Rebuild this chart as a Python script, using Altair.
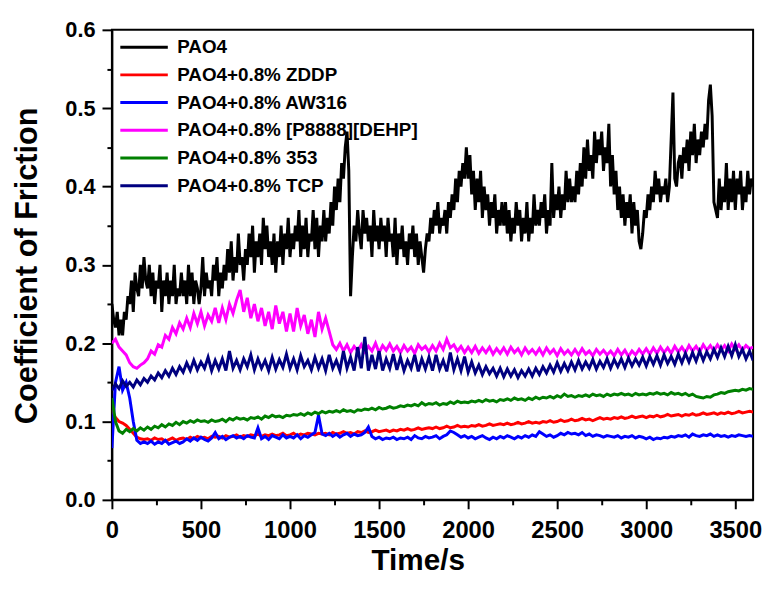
import altair as alt
import pandas as pd

# time grids (s)
time_black = list(range(0, 3601, 10))   # PAO4 read every 10 s
time_other = list(range(0, 3601, 20))   # additive oils read every 20 s

pao4 = [
    0.25, 0.23, 0.22, 0.24, 0.21, 0.23, 0.21, 0.24, 0.23, 0.26, 0.25, 0.28, 0.24, 0.29, 0.27, 0.26, 0.30, 0.27, 0.31, 0.28,
    0.27, 0.30, 0.26, 0.29, 0.25, 0.28, 0.27, 0.30, 0.24, 0.28, 0.26, 0.29, 0.25, 0.28, 0.26, 0.30, 0.25, 0.27, 0.26, 0.29,
    0.26, 0.28, 0.25, 0.30, 0.26, 0.29, 0.25, 0.28, 0.27, 0.25, 0.27, 0.31, 0.26, 0.29, 0.27, 0.28, 0.26, 0.30, 0.28, 0.31,
    0.26, 0.29, 0.27, 0.30, 0.28, 0.32, 0.29, 0.33, 0.28, 0.31, 0.29, 0.34, 0.30, 0.31, 0.28, 0.32, 0.30, 0.34, 0.31, 0.35,
    0.29, 0.33, 0.31, 0.34, 0.30, 0.36, 0.32, 0.35, 0.31, 0.33, 0.30, 0.34, 0.29, 0.33, 0.31, 0.35, 0.30, 0.34, 0.32, 0.36,
    0.31, 0.34, 0.32, 0.35, 0.33, 0.37, 0.31, 0.35, 0.32, 0.36, 0.31, 0.34, 0.33, 0.37, 0.32, 0.36, 0.31, 0.35, 0.33, 0.37,
    0.33, 0.36, 0.34, 0.38, 0.35, 0.40, 0.37, 0.41, 0.38, 0.43, 0.41, 0.45, 0.47, 0.42, 0.26, 0.31, 0.35, 0.33, 0.37, 0.34,
    0.32, 0.37, 0.34, 0.36, 0.33, 0.35, 0.31, 0.37, 0.33, 0.35, 0.32, 0.36, 0.33, 0.35, 0.31, 0.36, 0.33, 0.34, 0.31, 0.36,
    0.30, 0.34, 0.32, 0.35, 0.31, 0.33, 0.30, 0.34, 0.32, 0.35, 0.31, 0.34, 0.30, 0.33, 0.31, 0.29, 0.32, 0.34, 0.33, 0.36,
    0.34, 0.37, 0.35, 0.38, 0.34, 0.36, 0.35, 0.37, 0.34, 0.38, 0.36, 0.39, 0.37, 0.41, 0.38, 0.42, 0.40, 0.43, 0.41, 0.45,
    0.41, 0.44, 0.39, 0.42, 0.37, 0.41, 0.38, 0.42, 0.36, 0.40, 0.37, 0.39, 0.35, 0.38, 0.36, 0.39, 0.34, 0.37, 0.35, 0.38,
    0.35, 0.38, 0.34, 0.37, 0.33, 0.36, 0.34, 0.38, 0.35, 0.37, 0.33, 0.36, 0.34, 0.38, 0.33, 0.36, 0.34, 0.39, 0.35, 0.37,
    0.35, 0.38, 0.36, 0.39, 0.34, 0.37, 0.35, 0.43, 0.36, 0.39, 0.37, 0.40, 0.36, 0.39, 0.37, 0.42, 0.38, 0.41, 0.38, 0.40,
    0.38, 0.42, 0.39, 0.43, 0.40, 0.45, 0.41, 0.46, 0.42, 0.44, 0.41, 0.47, 0.43, 0.46, 0.44, 0.47, 0.42, 0.45, 0.43, 0.48,
    0.40, 0.44, 0.39, 0.42, 0.37, 0.40, 0.36, 0.39, 0.35, 0.38, 0.36, 0.39, 0.34, 0.38, 0.35, 0.37, 0.33, 0.32, 0.34, 0.37,
    0.36, 0.39, 0.37, 0.40, 0.38, 0.42, 0.39, 0.41, 0.38, 0.40, 0.39, 0.41, 0.38, 0.40, 0.46, 0.52, 0.41, 0.40, 0.43, 0.44,
    0.41, 0.45, 0.43, 0.46, 0.42, 0.47, 0.44, 0.48, 0.43, 0.46, 0.44, 0.47, 0.45, 0.48, 0.46, 0.51, 0.53, 0.49, 0.38, 0.37,
    0.36, 0.41, 0.37, 0.40, 0.38, 0.43, 0.37, 0.41, 0.38, 0.42, 0.37, 0.41, 0.39, 0.42, 0.37, 0.40, 0.38, 0.42, 0.39, 0.41,
    0.40,
]

zddp = [
    0.115, 0.105, 0.10, 0.098, 0.095, 0.09, 0.085, 0.08, 0.078, 0.077,
    0.078, 0.076, 0.079, 0.077, 0.078, 0.075, 0.077, 0.079, 0.076, 0.078,
    0.079, 0.077, 0.08, 0.078, 0.081, 0.079, 0.08, 0.078, 0.081, 0.08,
    0.081, 0.079, 0.082, 0.08, 0.081, 0.083, 0.08, 0.082, 0.081, 0.083,
    0.082, 0.084, 0.081, 0.083, 0.082, 0.084, 0.082, 0.083, 0.085, 0.082,
    0.083, 0.085, 0.082, 0.084, 0.083, 0.085, 0.084, 0.083, 0.085, 0.084,
    0.085, 0.083, 0.086, 0.084, 0.085, 0.087, 0.085, 0.086, 0.084, 0.087,
    0.086, 0.088, 0.086, 0.087, 0.089, 0.087, 0.088, 0.089, 0.087, 0.089,
    0.088, 0.09, 0.089, 0.091, 0.089, 0.09, 0.092, 0.09, 0.091, 0.092,
    0.091, 0.093, 0.091, 0.092, 0.094, 0.092, 0.093, 0.095, 0.093, 0.094,
    0.093, 0.095, 0.094, 0.096, 0.094, 0.095, 0.097, 0.095, 0.096, 0.097,
    0.096, 0.098, 0.096, 0.097, 0.099, 0.097, 0.098, 0.1, 0.098, 0.099,
    0.098, 0.1, 0.099, 0.101, 0.099, 0.1, 0.102, 0.1, 0.101, 0.103,
    0.101, 0.102, 0.104, 0.102, 0.103, 0.101, 0.103, 0.105, 0.103, 0.104,
    0.103, 0.105, 0.104, 0.106, 0.104, 0.105, 0.107, 0.105, 0.106, 0.107,
    0.105, 0.107, 0.106, 0.108, 0.106, 0.107, 0.109, 0.107, 0.108, 0.109,
    0.107, 0.109, 0.108, 0.11, 0.108, 0.109, 0.111, 0.109, 0.11, 0.111,
    0.109, 0.111, 0.11, 0.112, 0.11, 0.111, 0.113, 0.111, 0.112, 0.113,
    0.112,
]

aw316 = [
    0.066, 0.15, 0.17, 0.14, 0.15, 0.13, 0.10, 0.076, 0.072, 0.074,
    0.072, 0.075, 0.071, 0.074, 0.072, 0.076, 0.071, 0.073, 0.075, 0.072,
    0.074, 0.078, 0.075, 0.079, 0.076, 0.08, 0.077, 0.075, 0.079, 0.086,
    0.078, 0.081, 0.077, 0.08, 0.082, 0.079, 0.081, 0.078, 0.082, 0.08,
    0.079, 0.092, 0.078, 0.081, 0.077, 0.082, 0.08, 0.078, 0.083, 0.079,
    0.081, 0.079, 0.083, 0.078, 0.082, 0.08, 0.083, 0.086, 0.108, 0.084,
    0.082, 0.085, 0.081, 0.084, 0.08, 0.083, 0.085, 0.081, 0.084, 0.082,
    0.083, 0.086, 0.093, 0.081, 0.078, 0.08, 0.077, 0.079, 0.078, 0.08,
    0.077, 0.079, 0.078, 0.08, 0.077, 0.082, 0.079, 0.078, 0.081, 0.079,
    0.08, 0.082, 0.078, 0.081, 0.083, 0.088, 0.086, 0.083, 0.08, 0.082,
    0.079, 0.081, 0.078, 0.08, 0.082, 0.079, 0.077, 0.08, 0.078, 0.081,
    0.079, 0.082, 0.08, 0.078, 0.081, 0.079, 0.082, 0.08, 0.083, 0.081,
    0.087, 0.084, 0.081, 0.083, 0.08, 0.082, 0.085, 0.083, 0.086, 0.084,
    0.085, 0.083, 0.086, 0.082, 0.084, 0.081, 0.083, 0.082, 0.08, 0.082,
    0.081, 0.08, 0.082, 0.079, 0.081, 0.08, 0.082, 0.079, 0.081, 0.08,
    0.078, 0.08, 0.077, 0.079, 0.078, 0.08, 0.079, 0.081, 0.08, 0.082,
    0.081, 0.083, 0.08, 0.084, 0.082, 0.081, 0.083, 0.082, 0.084, 0.081,
    0.083, 0.081, 0.082, 0.08, 0.082, 0.081, 0.083, 0.082, 0.081, 0.082,
    0.081,
]

p8888 = [
    0.20, 0.205, 0.195, 0.19, 0.185, 0.175, 0.17, 0.168, 0.172, 0.175,
    0.18, 0.19, 0.186, 0.198, 0.195, 0.21, 0.205, 0.22, 0.212, 0.226,
    0.218, 0.232, 0.22, 0.238, 0.225, 0.24, 0.222, 0.236, 0.228, 0.245,
    0.226, 0.245, 0.23, 0.25, 0.238, 0.255, 0.268, 0.24, 0.258, 0.232,
    0.25, 0.228, 0.245, 0.222, 0.24, 0.218, 0.248, 0.225, 0.24, 0.215,
    0.238, 0.215, 0.245, 0.222, 0.236, 0.212, 0.23, 0.208, 0.24, 0.218,
    0.232, 0.215, 0.198, 0.192, 0.2, 0.19, 0.198, 0.188, 0.196, 0.19,
    0.198, 0.189, 0.196, 0.19, 0.2, 0.188, 0.197, 0.191, 0.199, 0.19,
    0.196, 0.188, 0.197, 0.19, 0.195, 0.187, 0.198, 0.192, 0.196, 0.189,
    0.197, 0.19, 0.2, 0.192, 0.205, 0.194, 0.198, 0.19, 0.196, 0.188,
    0.195, 0.188, 0.196, 0.187, 0.194, 0.188, 0.195, 0.186, 0.193, 0.187,
    0.194, 0.186, 0.195, 0.188, 0.193, 0.185, 0.194, 0.187, 0.192, 0.186,
    0.193, 0.185, 0.194, 0.187, 0.192, 0.184, 0.193, 0.186, 0.191, 0.185,
    0.192, 0.185, 0.193, 0.186, 0.19, 0.184, 0.192, 0.186, 0.191, 0.185,
    0.19, 0.184, 0.192, 0.185, 0.191, 0.183, 0.19, 0.185, 0.192, 0.186,
    0.193, 0.186, 0.194, 0.187, 0.195, 0.188, 0.194, 0.187, 0.196, 0.189,
    0.195, 0.188, 0.197, 0.19, 0.196, 0.189, 0.198, 0.191, 0.197, 0.19,
    0.198, 0.191, 0.197, 0.19, 0.199, 0.192, 0.198, 0.191, 0.197, 0.193,
    0.195,
]

s353 = [
    0.13, 0.1, 0.088, 0.085, 0.09, 0.087, 0.091, 0.088, 0.092, 0.089,
    0.093, 0.09, 0.094, 0.092, 0.096, 0.093, 0.097, 0.095, 0.099, 0.096,
    0.1, 0.098, 0.101, 0.099, 0.102, 0.1, 0.101, 0.099, 0.102, 0.1,
    0.101, 0.103, 0.1, 0.104, 0.102, 0.105, 0.103, 0.104, 0.102, 0.105,
    0.104, 0.106, 0.103, 0.107, 0.105, 0.108, 0.106, 0.107, 0.105, 0.108,
    0.107, 0.109, 0.108, 0.11, 0.108, 0.111, 0.109, 0.112, 0.11, 0.113,
    0.111, 0.113, 0.112, 0.114, 0.112, 0.115, 0.113, 0.114, 0.112, 0.115,
    0.114, 0.116, 0.115, 0.117, 0.115, 0.118, 0.116, 0.117, 0.119, 0.117,
    0.118, 0.12, 0.119, 0.121, 0.12, 0.122, 0.12, 0.124, 0.121, 0.123,
    0.122, 0.124, 0.121, 0.123, 0.122, 0.125, 0.123, 0.126, 0.124, 0.125,
    0.124, 0.126, 0.125, 0.127, 0.125, 0.128, 0.126, 0.127, 0.125, 0.128,
    0.127, 0.129, 0.127, 0.13, 0.128, 0.129, 0.127, 0.13, 0.128, 0.131,
    0.129, 0.131, 0.13, 0.132, 0.13, 0.133, 0.131, 0.135, 0.132, 0.133,
    0.131, 0.133, 0.132, 0.134, 0.132, 0.135, 0.133, 0.134, 0.132, 0.135,
    0.133, 0.135, 0.134, 0.136, 0.134, 0.135, 0.133, 0.136, 0.134, 0.135,
    0.134, 0.136, 0.135, 0.137, 0.135, 0.136, 0.134, 0.137, 0.135, 0.136,
    0.134, 0.136, 0.133, 0.135, 0.132, 0.131, 0.13, 0.132, 0.131, 0.134,
    0.135, 0.137, 0.136, 0.138, 0.139, 0.14, 0.139, 0.141, 0.14, 0.142,
    0.141,
]

tcp = [
    0.14, 0.148, 0.142, 0.152, 0.145, 0.15, 0.144, 0.153, 0.147, 0.155,
    0.15, 0.158, 0.153, 0.162, 0.156, 0.165, 0.158, 0.168, 0.16, 0.17,
    0.163, 0.175, 0.165, 0.178, 0.166, 0.176, 0.168, 0.182, 0.165, 0.178,
    0.167, 0.18, 0.165, 0.19, 0.168, 0.178, 0.166, 0.18, 0.17, 0.185,
    0.166, 0.18, 0.168, 0.178, 0.165, 0.182, 0.167, 0.179, 0.169, 0.186,
    0.168, 0.18, 0.166, 0.184, 0.17, 0.178, 0.166, 0.182, 0.168, 0.18,
    0.165, 0.185, 0.168, 0.178, 0.165, 0.19, 0.168, 0.182, 0.165, 0.195,
    0.168, 0.208, 0.165, 0.185, 0.167, 0.19, 0.165, 0.18, 0.168, 0.186,
    0.166, 0.182, 0.165, 0.178, 0.168, 0.185, 0.164, 0.18, 0.167, 0.182,
    0.165, 0.185, 0.167, 0.178, 0.164, 0.188, 0.166, 0.18, 0.165, 0.183,
    0.163, 0.176, 0.162, 0.172, 0.16, 0.17, 0.161, 0.168, 0.158, 0.168,
    0.157, 0.167, 0.158, 0.166, 0.156, 0.165, 0.158, 0.167, 0.158, 0.168,
    0.16, 0.17, 0.162, 0.172, 0.163, 0.175, 0.164, 0.174, 0.165, 0.176,
    0.166, 0.178, 0.167, 0.176, 0.168, 0.179, 0.167, 0.177, 0.169, 0.18,
    0.168, 0.179, 0.17, 0.18, 0.169, 0.181, 0.171, 0.18, 0.172, 0.182,
    0.171, 0.183, 0.173, 0.184, 0.172, 0.185, 0.174, 0.183, 0.173, 0.186,
    0.175, 0.187, 0.176, 0.188, 0.177, 0.19, 0.178, 0.189, 0.18, 0.192,
    0.182, 0.194, 0.183, 0.196, 0.184, 0.198, 0.183, 0.192, 0.18, 0.19,
    0.178,
]

series_names = [
    "PAO4",
    "PAO4+0.8% ZDDP",
    "PAO4+0.8% AW316",
    "PAO4+0.8% [P8888][DEHP]",
    "PAO4+0.8% 353",
    "PAO4+0.8% TCP",
]
series_values = [pao4, zddp, aw316, p8888, s353, tcp]
series_times = [time_black, time_other, time_other, time_other, time_other, time_other]
series_colors = ["#000000", "#ff0000", "#0000ff", "#ff00ff", "#008000", "#000080"]

x_ticks = [0, 250, 500, 750, 1000, 1250, 1500, 1750, 2000, 2250, 2500, 2750, 3000, 3250, 3500]
y_ticks = [0.0, 0.05, 0.1, 0.15, 0.2, 0.25, 0.3, 0.35, 0.4, 0.45, 0.5, 0.55, 0.6]

rows = []
for name, times, vals in zip(series_names, series_times, series_values):
    for t, v in zip(times, vals):
        rows.append({"Time": t, "COF": v, "Sample": name})
df = pd.DataFrame(rows)

FONT = "Liberation Sans"

x_axis = alt.Axis(
    values=x_ticks,
    format="d",
    labelExpr="datum.value % 500 == 0 ? datum.label : ''",
    tickSize={"condition": {"test": "datum.value % 500 != 0", "value": 5}, "value": 9},
    tickWidth=2,
    tickColor="black",
    domainColor="black",
    domainWidth=2,
    labelFont=FONT,
    labelFontSize=24,
    labelFontWeight="bold",
    labelColor="black",
    labelPadding=10,
    labelOverlap=False,
    labelFlush=False,
    grid=False,
    title="Time/s",
    titleFont=FONT,
    titleFontSize=30,
    titleFontWeight="bold",
    titleColor="black",
    titleX=309,
    titleY=70,
    titleAlign="center",
    titleBaseline="alphabetic",
)

y_axis = alt.Axis(
    values=y_ticks,
    labelExpr="round(datum.value * 100) % 10 == 0 ? format(datum.value, '.1f') : ''",
    tickSize={"condition": {"test": "round(datum.value * 100) % 10 != 0", "value": 5}, "value": 10},
    tickWidth=2,
    tickColor="black",
    domainColor="black",
    domainWidth=2,
    labelFont=FONT,
    labelFontSize=22,
    labelFontWeight="bold",
    labelColor="black",
    labelPadding=7,
    labelOverlap=False,
    labelFlush=False,
    grid=False,
    title="Coefficient of Friction",
    titleFont=FONT,
    titleFontSize=31,
    titleFontWeight="bold",
    titleColor="black",
    titleX=-76,
    titleY=238,
    titleAngle=270,
    titleAlign="center",
    titleBaseline="alphabetic",
)

legend = alt.Legend(
    title=None,
    orient="none",
    legendX=23,
    legendY=8,
    padding=0,
    symbolType="M-4.8,0H4.8",
    symbolSize=100,
    symbolStrokeWidth=3,
    symbolOffset=0,
    labelOffset=24,
    labelLimit=0,
    labelFont=FONT,
    labelFontSize=19,
    labelFontWeight="bold",
    labelColor="black",
    rowPadding=8,
)

color_enc = alt.Color(
    "Sample:N",
    scale=alt.Scale(domain=series_names, range=series_colors),
    sort=series_names,
    legend=legend,
)

layers = []
for name in series_names:
    layers.append(
        alt.Chart(df)
        .transform_filter(alt.datum.Sample == name)
        .mark_line(strokeWidth=3, clip=True)
        .encode(
            x=alt.X("Time:Q", scale=alt.Scale(domain=[0, 3600], nice=False, zero=False), axis=x_axis),
            y=alt.Y("COF:Q", scale=alt.Scale(domain=[0, 0.6], nice=False), axis=y_axis),
            color=color_enc,
        )
    )

chart = (
    alt.layer(*layers)
    .properties(
        width=648,
        height=475,
        autosize=alt.AutoSizeParams(type="none"),
        padding={"left": 105, "top": 19, "right": 10, "bottom": 86},
        background="white",
    )
    .configure_view(stroke="black", strokeWidth=2)
)

chart.save("out.html", embed_options={"renderer": "svg", "actions": False})
